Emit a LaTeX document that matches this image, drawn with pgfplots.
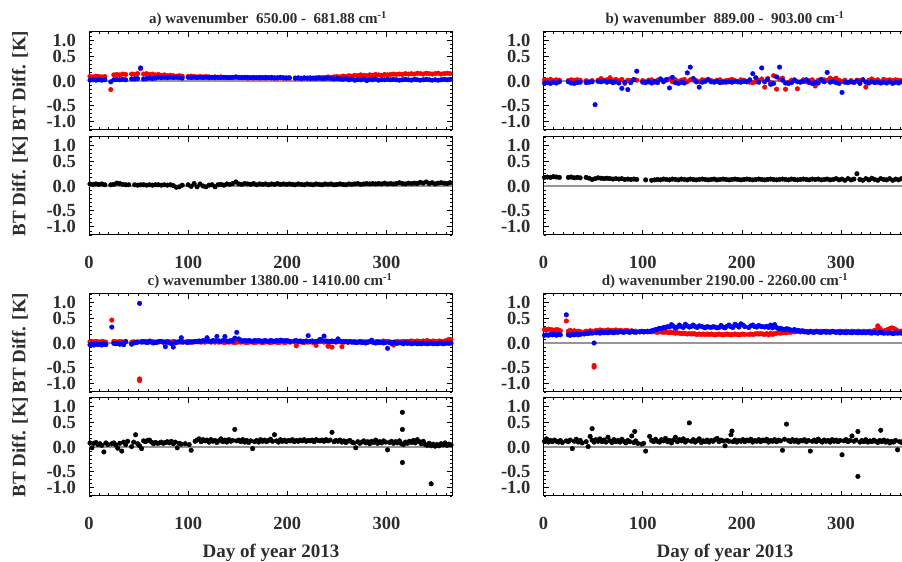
\documentclass[border=0pt]{standalone}
\usepackage{pgfplots}
\pgfplotsset{compat=1.18}
\usepackage{pgfplotstable}
\usepackage{fontspec}
\setmainfont{Liberation Serif}
\definecolor{zl}{RGB}{150,150,150}
\definecolor{txt}{RGB}{45,45,45}

\pgfplotstableread{
day r b k
1 0.11 0.02 0.05
4 0.10 0.03 0.04
7 0.12 0.02 0.05
10 0.11 0.03 0.04
13 0.10 0.02 0.05
16 0.11 0.03 0.03
19 nan nan nan
22 -0.21 -0.02 0.03
25 0.15 0.03 0.04
28 0.16 0.04 0.07
31 0.15 0.03 0.06
34 0.17 0.04 0.04
37 0.16 0.03 0.03
40 nan nan 0.03
43 0.17 0.05 nan
46 0.16 0.05 0.03
49 0.18 0.06 0.02
52 0.30 0.32 0.03
55 0.17 0.05 0.03
58 0.18 0.06 0.02
61 0.16 0.07 0.03
64 0.17 0.06 0.02
67 0.15 0.07 0.03
70 0.16 0.09 0.03
73 0.14 0.08 0.02
76 0.15 0.09 0.03
79 0.13 0.08 0.02
82 0.14 0.09 0.03
85 0.13 0.08 0.01
88 0.12 0.09 -0.03
91 0.13 0.08 -0.02
94 0.12 0.07 0.02
97 nan nan nan
100 0.11 0.09 0.03
103 0.12 0.08 -0.01
106 0.11 0.09 0.06
109 0.10 0.08 -0.02
112 0.11 0.09 0.05
115 0.10 0.08 0.00
118 0.11 0.09 -0.02
121 0.10 0.08 0.02
124 0.09 0.09 0.03
127 0.10 0.08 -0.02
130 0.09 0.09 0.03
133 0.10 0.08 0.04
136 0.09 0.09 0.02
139 0.08 0.09 0.05
142 0.09 0.08 0.04
145 0.08 0.09 0.06
148 0.09 0.10 0.10
151 0.08 0.09 0.05
154 0.09 0.08 0.04
157 0.08 0.09 0.06
160 0.07 0.09 0.05
163 0.08 0.08 0.04
166 0.07 0.09 0.06
169 0.08 0.08 0.03
172 0.07 0.09 0.05
175 0.08 0.08 0.04
178 0.07 0.09 0.05
181 0.08 0.08 0.03
184 0.07 0.09 0.05
187 0.08 0.07 0.04
190 0.07 0.08 0.06
193 0.08 0.09 0.04
196 0.07 0.08 0.05
199 0.08 0.07 0.04
202 0.07 0.08 0.05
205 nan nan 0.04
208 0.07 0.07 0.03
211 0.08 0.07 0.05
214 0.07 0.06 0.04
217 0.08 0.07 0.03
220 0.07 0.07 0.05
223 0.08 0.06 0.04
226 0.07 0.07 0.03
229 0.08 0.06 0.05
232 0.09 0.07 0.04
235 0.08 0.06 0.03
238 0.09 0.06 0.05
241 0.10 0.07 0.04
244 0.09 0.06 0.05
247 0.10 0.05 0.03
250 0.11 0.06 0.04
253 0.10 0.05 0.05
256 0.12 0.04 0.04
259 0.11 0.06 0.03
262 0.13 0.03 0.05
265 0.12 0.05 0.04
268 0.14 0.02 0.05
271 0.13 0.04 0.06
274 0.15 0.03 0.04
277 0.14 0.05 0.05
280 0.13 0.01 0.06
283 0.15 0.04 0.05
286 0.14 0.03 0.06
289 0.16 0.05 0.05
292 0.15 0.02 0.06
295 0.14 0.04 0.05
298 0.16 0.03 0.07
301 0.15 0.04 0.05
304 0.16 0.03 0.06
307 0.17 0.04 0.05
310 0.16 0.03 0.06
313 0.17 0.02 0.08
316 0.16 0.03 0.06
319 0.18 0.04 0.05
322 0.17 0.03 0.07
325 0.18 0.02 0.06
328 0.17 0.04 0.07
331 0.19 0.03 0.06
334 0.18 0.02 0.09
337 0.17 0.03 0.07
340 0.19 0.04 0.10
343 0.18 0.03 0.06
346 0.17 0.02 0.08
349 0.18 0.03 0.05
352 0.19 0.02 0.07
355 0.17 0.03 0.08
358 0.18 0.04 0.07
361 0.19 0.03 0.06
364 0.18 0.04 0.08
}\tabA

\pgfplotstableread{
day r b k
1 0.03 -0.05 0.21
4 0.02 -0.04 0.22
7 0.04 -0.06 0.21
10 0.01 -0.03 0.23
13 0.03 -0.05 0.22
16 0.02 -0.02 0.21
19 nan nan nan
22 nan 1.22 nan
25 0.01 -0.02 0.21
28 0.03 -0.05 0.22
31 0.02 -0.06 0.20
34 0.03 -0.04 0.21
37 0.02 -0.03 0.20
40 nan nan nan
43 0.01 -0.04 0.21
46 -0.02 -0.03 0.19
49 0.01 -0.02 0.16
52 nan -0.58 0.18
55 0.02 -0.01 0.20
58 0.06 -0.02 0.19
61 0.02 0.00 0.18
64 0.03 -0.03 0.19
67 0.08 -0.01 0.18
70 0.02 -0.04 0.17
73 0.04 -0.02 0.18
76 0.01 -0.05 0.17
79 0.04 -0.18 0.18
82 -0.06 -0.03 0.16
85 0.02 -0.21 0.17
88 0.01 -0.04 0.16
91 0.04 0.03 0.17
94 0.02 0.24 0.16
97 nan nan nan
100 0.01 -0.03 nan
103 -0.02 -0.04 0.15
106 0.02 -0.02 nan
109 0.03 -0.05 0.14
112 -0.03 -0.01 0.15
115 0.02 -0.04 0.16
118 0.04 0.05 0.15
121 0.01 -0.02 0.17
124 0.02 0.04 0.16
127 0.05 -0.17 0.15
130 -0.02 0.09 0.17
133 0.03 -0.04 0.16
136 -0.01 -0.06 0.15
139 0.02 -0.03 0.17
142 0.04 -0.05 0.16
145 -0.02 0.20 0.15
148 0.03 0.34 0.17
151 0.02 0.06 0.16
154 0.01 -0.02 0.15
157 -0.02 -0.15 0.16
160 0.03 -0.03 0.17
163 0.02 -0.01 0.16
166 0.04 0.03 0.15
169 0.01 -0.02 0.16
172 -0.01 -0.03 0.17
175 0.02 -0.01 0.15
178 0.03 -0.04 0.16
181 -0.03 -0.02 0.17
184 0.01 -0.03 0.16
187 0.02 -0.02 0.15
190 0.04 -0.03 0.16
193 0.01 -0.01 0.17
196 -0.02 -0.02 0.16
199 0.03 -0.03 0.15
202 0.02 -0.01 0.16
205 -0.02 -0.02 0.17
208 -0.03 0.03 0.16
211 -0.04 0.18 0.15
214 -0.02 0.08 0.16
217 0.02 -0.03 0.17
220 0.05 0.32 0.16
223 -0.15 -0.02 0.15
226 0.06 0.04 0.16
229 -0.04 -0.08 0.17
232 0.13 -0.06 0.16
235 -0.20 0.10 0.15
238 0.05 0.34 0.16
241 0.07 0.02 0.17
244 -0.20 -0.05 0.16
247 -0.03 -0.06 0.15
250 0.02 -0.04 0.17
253 0.03 0.02 0.16
256 -0.19 -0.02 0.15
259 -0.02 -0.03 0.16
262 0.03 -0.01 0.17
265 -0.02 0.03 0.16
268 0.01 -0.04 0.15
271 0.03 -0.06 0.17
274 -0.12 -0.03 0.16
277 0.02 -0.05 0.17
280 0.01 0.04 0.15
283 0.03 -0.02 0.16
286 0.02 0.21 0.17
289 0.07 -0.03 0.15
292 0.04 -0.01 0.16
295 0.07 -0.04 0.18
298 0.02 -0.06 0.15
301 -0.01 -0.28 0.17
304 0.02 -0.03 0.14
307 -0.03 -0.04 0.18
310 0.01 -0.02 0.15
313 -0.04 -0.03 0.17
316 0.02 0.00 0.30
319 0.01 -0.06 0.16
322 0.03 0.03 0.14
325 -0.15 -0.03 0.18
328 0.02 -0.05 0.15
331 0.05 -0.02 0.19
334 0.01 -0.04 0.16
337 0.03 -0.03 0.14
340 -0.02 -0.05 0.18
343 0.04 -0.03 0.16
346 0.02 -0.05 0.15
349 0.03 -0.02 0.18
352 0.01 -0.06 0.14
355 0.03 -0.03 0.17
358 0.02 -0.05 0.15
361 0.01 -0.02 0.18
364 0.03 -0.04 0.16
}\tabB

\pgfplotstableread{
day r b k
1 0.03 -0.04 0.10
3 0.04 -0.03 -0.02
5 0.02 -0.05 0.09
7 0.04 -0.02 0.11
9 0.03 -0.04 0.06
11 0.02 -0.03 0.08
13 0.04 -0.05 0.04
15 0.03 -0.02 -0.12
17 0.02 -0.04 0.10
19 nan nan 0.06
21 nan nan nan
23 0.56 0.39 0.08
25 0.04 -0.01 0.10
27 0.03 -0.02 0.05
29 0.02 0.00 -0.03
31 0.04 -0.03 0.09
33 0.03 -0.02 -0.10
35 0.02 -0.04 0.12
37 0.04 0.03 0.06
39 nan nan 0.14
41 nan nan nan
43 0.02 -0.03 0.01
45 0.03 0.00 0.12
47 0.02 0.01 0.30
49 0.03 0.02 0.08
51 -0.88 0.97 0.03
53 0.04 0.02 -0.04
55 0.03 0.03 0.15
57 0.04 0.02 0.13
59 0.03 0.01 0.16
61 0.05 0.03 0.17
63 0.04 0.02 0.12
65 0.03 0.00 0.08
67 0.02 0.01 0.11
69 0.03 0.02 0.09
71 0.04 0.03 0.10
73 0.03 0.04 0.12
75 0.02 0.02 0.09
77 0.03 -0.09 0.11
79 0.04 0.02 0.13
81 0.03 0.01 0.10
83 0.02 -0.02 0.14
85 0.04 -0.10 0.08
87 0.03 0.01 0.12
89 0.02 0.02 -0.02
91 0.03 0.03 0.09
93 0.02 0.13 0.07
95 0.03 0.02 nan
97 nan nan 0.08
99 0.04 0.01 nan
101 0.02 0.03 0.06
103 0.03 0.02 -0.08
105 0.02 0.03 nan
107 0.03 0.04 0.14
109 0.04 0.03 0.17
111 0.03 0.05 0.20
113 0.02 0.04 0.13
115 0.03 0.06 0.18
117 0.02 0.05 0.15
119 0.03 0.13 0.17
121 0.04 0.05 0.12
123 0.02 0.04 0.18
125 0.03 0.06 0.14
127 0.02 0.05 0.16
129 0.03 0.16 0.11
131 0.02 0.05 0.15
133 0.03 0.04 0.20
135 0.02 0.06 0.13
137 0.01 0.16 0.17
139 0.03 0.05 0.12
141 0.02 0.04 0.18
143 0.03 0.06 0.14
145 0.02 0.05 0.16
147 0.01 0.12 0.43
149 0.02 0.26 0.15
151 0.03 0.10 0.17
153 0.02 0.07 0.13
155 0.03 0.05 0.18
157 0.02 0.06 0.12
159 0.01 0.05 0.16
161 0.02 0.06 0.11
163 0.03 0.05 0.15
165 0.02 0.04 -0.04
167 0.01 0.06 0.13
169 0.02 0.05 0.16
171 0.03 0.06 0.12
173 0.02 0.05 0.18
175 0.01 0.04 0.14
177 0.02 0.06 0.17
179 0.03 0.05 0.13
181 0.02 0.04 0.16
183 0.01 0.06 0.19
185 0.02 0.05 0.14
187 0.03 0.04 0.30
189 0.02 0.06 0.15
191 0.01 0.05 0.12
193 0.02 0.07 0.18
195 0.03 0.06 0.14
197 0.01 0.05 0.17
199 0.02 0.06 0.13
201 0.03 0.05 0.16
203 0.02 0.04 0.15
205 nan nan 0.18
207 0.03 0.05 0.13
209 -0.07 0.06 0.16
211 0.02 0.04 0.14
213 0.03 0.05 0.17
215 0.02 0.03 0.15
217 0.01 0.04 0.18
219 0.03 0.05 0.14
221 0.02 0.18 0.16
223 0.03 0.04 0.15
225 0.02 0.05 0.17
227 0.01 0.03 0.13
229 -0.06 0.04 0.18
231 0.04 0.05 0.16
233 0.03 0.09 0.15
235 0.05 0.06 0.17
237 0.02 0.17 0.14
239 0.03 0.05 0.18
241 -0.08 0.04 0.15
243 0.02 0.03 0.17
245 -0.10 0.05 0.36
247 0.03 0.04 0.13
249 0.02 0.03 0.16
251 0.04 0.10 0.14
253 0.03 0.05 0.17
255 -0.09 0.04 0.12
257 0.02 0.03 0.15
259 0.03 0.04 0.11
261 0.02 0.02 0.14
263 0.04 0.03 0.16
265 0.03 0.02 0.12
267 0.02 0.03 0.10
269 0.03 0.01 -0.02
271 0.02 0.02 0.13
273 0.03 0.03 0.09
275 0.04 0.01 0.12
277 0.02 0.02 0.15
279 0.03 0.00 0.10
281 0.02 0.02 0.13
283 0.04 0.03 0.08
285 0.03 0.07 0.14
287 0.02 0.01 0.11
289 0.03 0.00 0.17
291 0.04 0.02 0.09
293 0.03 0.01 0.13
295 0.02 0.02 0.10
297 0.05 0.00 0.15
299 0.03 0.01 0.12
301 0.04 -0.13 -0.07
303 0.03 0.01 0.11
305 0.02 -0.01 0.14
307 -0.05 0.02 0.09
309 0.03 0.00 0.13
311 0.04 -0.01 0.10
313 0.02 0.01 0.15
315 0.03 0.00 0.08
317 0.04 -0.02 0.06
319 0.03 0.01 0.12
321 0.04 -0.01 0.09
323 0.03 0.00 0.14
325 0.05 -0.02 0.11
327 0.04 -0.01 0.16
329 0.03 0.00 0.10
331 0.05 -0.02 0.18
333 0.04 -0.01 0.13
335 0.03 -0.02 0.08
337 0.05 0.00 0.14
339 0.04 -0.01 0.06
341 0.06 -0.02 0.04
343 0.04 -0.01 0.09
345 0.03 0.00 0.03
347 0.05 -0.02 0.07
349 0.04 -0.01 0.02
351 0.03 -0.02 0.06
353 0.05 -0.01 0.03
355 0.04 0.00 0.08
357 0.03 -0.02 0.05
359 0.05 -0.01 0.10
361 0.06 0.00 0.04
363 0.09 -0.01 0.07
365 0.08 0.00 0.05
}\tabC

\pgfplotstableread{
day r b k
1 0.33 0.19 0.14
3 0.32 0.20 0.20
5 0.34 0.19 0.12
7 0.33 0.21 0.16
9 0.32 0.20 0.13
11 0.31 0.22 0.17
13 0.33 0.19 0.14
15 0.32 0.21 0.12
17 0.30 0.20 0.16
19 nan nan 0.11
21 nan nan nan
23 0.54 0.69 0.15
25 0.29 0.20 0.13
27 0.31 0.19 0.17
29 0.28 0.21 -0.04
31 0.30 0.20 0.14
33 0.27 0.22 0.19
35 0.29 0.20 0.12
37 0.28 0.21 0.16
39 nan nan 0.10
41 0.27 0.22 nan
43 0.29 0.24 0.13
45 0.28 0.23 0.01
47 0.30 0.25 0.26
49 0.29 0.24 0.17
51 -0.55 0.00 0.12
53 0.31 0.25 0.18
55 0.30 0.26 0.14
57 0.32 0.24 0.20
59 0.31 0.27 0.13
61 0.29 0.25 0.17
63 0.31 0.26 0.12
65 0.32 0.25 0.24
67 0.30 0.27 0.15
69 0.31 0.26 0.11
71 0.30 0.25 0.18
73 0.32 0.27 0.13
75 0.29 0.26 0.16
77 0.31 0.28 0.12
79 0.30 0.27 0.19
81 0.29 0.26 0.14
83 0.31 0.28 0.10
85 0.30 0.27 0.16
87 0.29 0.26 0.13
89 0.30 0.28 0.27
91 0.28 0.27 0.11
93 0.29 0.26 0.15
95 nan nan 0.09
97 0.28 0.27 nan
99 0.29 0.28 0.07
101 0.27 0.27 0.09
103 0.28 0.28 -0.10
105 0.27 0.29 nan
107 0.28 0.28 0.26
109 0.27 0.30 0.16
111 0.28 0.31 0.13
113 0.27 0.33 0.19
115 0.26 0.34 0.14
117 0.28 0.36 0.12
119 0.27 0.35 0.18
121 0.26 0.38 0.15
123 0.27 0.37 0.21
125 0.26 0.40 0.13
127 0.25 0.39 0.16
129 0.26 0.45 0.10
131 0.25 0.41 0.17
133 0.24 0.36 0.24
135 0.25 0.39 0.13
137 0.24 0.44 0.18
139 0.23 0.40 0.15
141 0.24 0.38 0.20
143 0.23 0.46 0.12
145 0.22 0.42 0.16
147 0.23 0.39 0.59
149 0.22 0.41 0.14
151 0.23 0.44 0.18
153 0.22 0.40 0.12
155 0.21 0.38 0.16
157 0.22 0.42 0.20
159 0.21 0.41 0.11
161 0.22 0.39 0.15
163 0.21 0.37 0.13
165 0.22 0.40 0.17
167 0.21 0.39 0.12
169 0.22 0.38 0.16
171 0.21 0.40 0.14
173 0.20 0.39 0.18
175 0.21 0.37 0.21
177 0.22 0.38 0.13
179 0.21 0.43 0.17
181 0.20 0.39 0.15
183 0.21 0.37 0.03
185 0.22 0.41 0.16
187 0.21 0.44 0.14
189 0.20 0.40 0.30
191 0.21 0.38 0.13
193 0.22 0.46 0.17
195 0.21 0.43 0.12
197 0.20 0.39 0.16
199 0.21 0.47 0.14
201 0.22 0.44 0.18
203 0.21 0.40 0.13
205 nan nan 0.17
207 0.21 0.38 0.15
209 0.22 0.42 0.19
211 0.21 0.44 0.12
213 0.22 0.40 0.16
215 0.23 0.39 0.14
217 0.22 0.43 0.18
219 0.23 0.41 0.13
221 0.22 0.40 0.17
223 0.21 0.39 0.15
225 0.23 0.41 0.19
227 0.20 0.38 0.12
229 0.24 0.44 0.16
231 0.21 0.37 0.14
233 0.23 0.45 0.18
235 0.24 0.38 0.13
237 0.25 0.35 0.17
239 0.24 0.36 0.15
241 0.25 0.34 -0.08
243 0.26 0.33 0.19
245 0.25 0.35 0.56
247 0.27 0.34 0.16
249 0.26 0.32 0.13
251 0.28 0.31 0.18
253 0.27 0.33 0.14
255 0.28 0.30 0.17
257 0.29 0.31 0.12
259 0.27 0.29 0.16
261 0.28 0.30 0.15
263 0.29 0.27 0.18
265 0.27 0.28 0.13
267 0.28 0.26 0.16
269 0.29 0.28 -0.10
271 0.27 0.27 0.14
273 0.28 0.26 0.17
275 0.29 0.28 0.13
277 0.28 0.27 0.19
279 0.29 0.26 0.15
281 0.27 0.27 0.12
283 0.28 0.28 0.17
285 0.29 0.26 0.14
287 0.28 0.27 0.16
289 0.27 0.26 0.12
291 0.29 0.28 0.18
293 0.28 0.27 0.14
295 0.27 0.26 0.17
297 0.28 0.27 0.13
299 0.29 0.25 0.16
301 0.27 0.27 -0.19
303 0.28 0.26 0.15
305 0.29 0.25 0.18
307 0.28 0.27 0.13
309 0.27 0.26 0.16
311 0.29 0.25 0.27
313 0.28 0.27 0.14
315 0.27 0.26 0.17
317 0.29 0.25 0.38
319 0.28 0.27 0.12
321 0.27 0.25 0.16
323 0.29 0.26 0.13
325 0.28 0.25 0.18
327 0.27 0.27 0.12
329 0.29 0.25 0.15
331 0.28 0.24 0.13
333 0.30 0.26 0.17
335 0.32 0.25 0.14
337 0.42 0.24 0.11
339 0.36 0.26 0.16
341 0.30 0.25 0.13
343 0.29 0.24 0.17
345 0.31 0.25 0.12
347 0.33 0.24 0.15
349 0.35 0.25 0.10
351 0.37 0.24 0.14
353 0.36 0.23 0.12
355 0.33 0.25 0.16
357 0.30 0.24 -0.07
359 0.28 0.25 0.13
361 0.29 0.24 0.11
363 0.30 0.25 0.15
365 0.29 0.24 0.12
}\tabD

\pgfplotsset{
  panel/.style={
    scale only axis, width=363pt, height=98pt,
    xmin=0, xmax=366, ymin=-1.2, ymax=1.2,
    xtick={0,100,200,300},
    minor xtick={10,20,...,360},
    ytick={-1,-0.6,0,0.6,1},
    minor ytick={-1.2,-1.1,...,1.2},
    yticklabels={\textbf{-1.0},\textbf{-0.5},\textbf{0.0},\textbf{0.5},\textbf{1.0}},
    xticklabels={},
    tick align=inside, xtick pos=both, ytick pos=both,
    xticklabel pos=lower, yticklabel pos=left,
    major tick length=5pt, minor tick length=2.5pt,
    every tick/.append style={black, line width=0.7pt},
    axis line style={black, line width=1pt},
    tick label style={font=\fontsize{18.5}{18.5}\selectfont\bfseries, text=txt, inner sep=0pt},
    yticklabel style={anchor=east, xshift=-13pt},
    /pgf/number format/assume math mode=true,
  },
  lower/.style={panel, xticklabels={\textbf{0},\textbf{100},\textbf{200},\textbf{300}},
    xticklabel style={anchor=base, yshift=-34pt}},
  rd/.style={only marks, mark=*, mark size=2.3pt, red, mark options={draw=none, fill=red}},
  bl/.style={only marks, mark=*, mark size=2.3pt, blue, mark options={draw=none, fill=blue}},
  bk/.style={only marks, mark=*, mark size=2.3pt, black, mark options={draw=none, fill=black}},
  zline/.style={zl, line width=1.3pt, forget plot},
}

\begin{document}
\begin{tikzpicture}
% ---- panel a ----
\begin{axis}[panel, at={(89pt,432pt)}, anchor=south west]
\addplot[rd] table[x=day,y=r]{\tabA};
\addplot[bl] table[x=day,y=b]{\tabA};
\addplot[zline] coordinates {(0,0) (366,0)};
\end{axis}
\begin{axis}[lower, at={(89pt,327pt)}, anchor=south west]
\addplot[bk] table[x=day,y=k]{\tabA};
\addplot[zline] coordinates {(0,0) (366,0)};
\end{axis}
% ---- panel b ----
\begin{axis}[panel, at={(543.5pt,432pt)}, anchor=south west]
\addplot[rd] table[x=day,y=r]{\tabB};
\addplot[bl] table[x=day,y=b]{\tabB};
\addplot[zline] coordinates {(0,0) (366,0)};
\end{axis}
\begin{axis}[lower, at={(543.5pt,327pt)}, anchor=south west]
\addplot[bk] table[x=day,y=k]{\tabB};
\addplot[zline] coordinates {(0,0) (366,0)};
\end{axis}
% ---- panel c ----
\begin{axis}[panel, at={(89pt,170pt)}, anchor=south west]
\addplot[rd] table[x=day,y=r]{\tabC};
\addplot[rd] coordinates {(51,-0.92)};
\addplot[bl] table[x=day,y=b]{\tabC};
\addplot[zline] coordinates {(0,0) (366,0)};
\end{axis}
\begin{axis}[lower, at={(89pt,66pt)}, anchor=south west]
\addplot[bk] table[x=day,y=k]{\tabC};
\addplot[bk] coordinates {(316,0.85) (316,0.43) (316,-0.38) (345,-0.90)};
\addplot[zline] coordinates {(0,0) (366,0)};
\end{axis}
% ---- panel d ----
\begin{axis}[panel, at={(543.5pt,170pt)}, anchor=south west]
\addplot[rd] table[x=day,y=r]{\tabD};
\addplot[rd] coordinates {(51,-0.59)};
\addplot[bl] table[x=day,y=b]{\tabD};
\addplot[zline] coordinates {(0,0) (366,0)};
\end{axis}
\begin{axis}[lower, at={(543.5pt,66pt)}, anchor=south west]
\addplot[bk] table[x=day,y=k]{\tabD};
\addplot[bk] coordinates {(317,-0.72) (49,0.45) (190,0.39) (340,0.41) (92,0.38)};
\addplot[zline] coordinates {(0,0) (366,0)};
\end{axis}
% ---- titles and labels ----
\begin{scope}[every node/.style={text=txt, font=\fontsize{15}{15}\selectfont\bfseries, anchor=base, inner sep=0pt}]
\node at (268pt,538.7pt) {a) wavenumber\ \ 650.00 -\ \ 681.88 cm\textsuperscript{-1}};
\node at (725pt,538.7pt) {b) wavenumber\ \ 889.00 -\ \ 903.00 cm\textsuperscript{-1}};
\node at (270pt,276.3pt) {c) wavenumber 1380.00 - 1410.00 cm\textsuperscript{-1}};
\node at (725pt,276.3pt) {d) wavenumber 2190.00 - 2260.00 cm\textsuperscript{-1}};
\end{scope}
\begin{scope}[every node/.style={text=txt, font=\fontsize{19}{19}\selectfont\bfseries, inner sep=0pt}]
\node[anchor=base] at (271pt,4pt) {Day of year 2013};
\node[anchor=base] at (725pt,4pt) {Day of year 2013};
\node[rotate=90] at (20pt,481pt) {BT Diff. [K]};
\node[rotate=90] at (20pt,376pt) {BT Diff. [K]};
\node[rotate=90] at (20pt,219pt) {BT Diff. [K]};
\node[rotate=90] at (20pt,115pt) {BT Diff. [K]};
\end{scope}
\pgfresetboundingbox
\useasboundingbox (0pt,0pt) rectangle (902pt,562pt);
\end{tikzpicture}
\end{document}
